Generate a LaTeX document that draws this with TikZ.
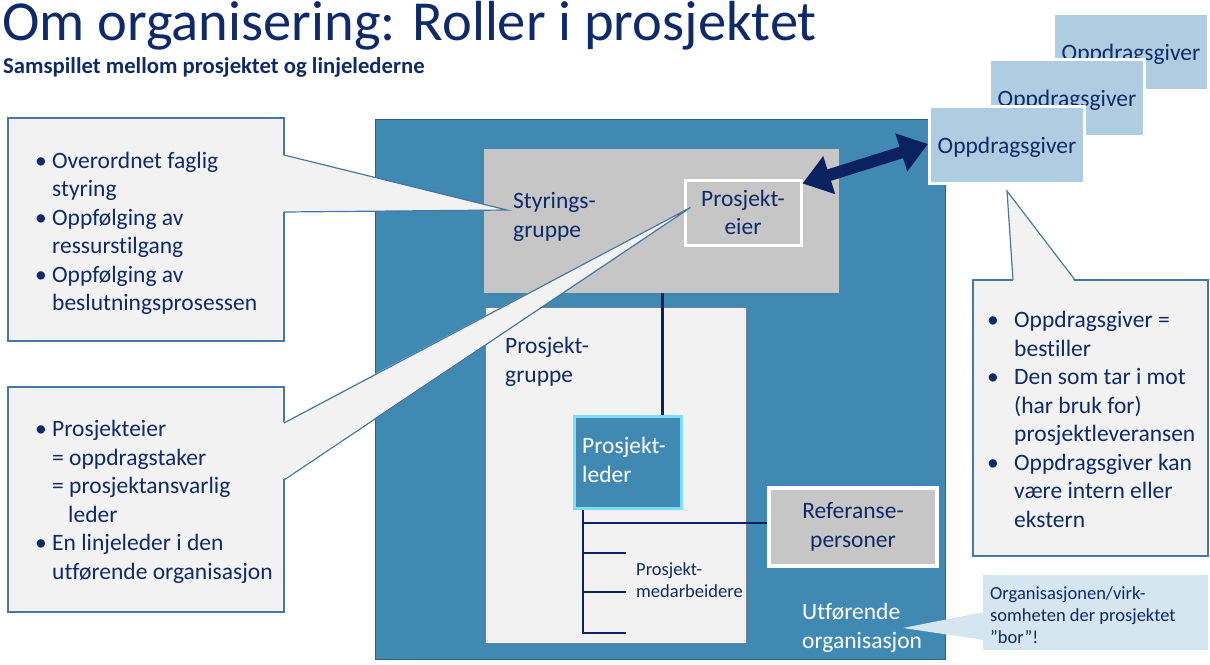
\documentclass[tikz,border=0pt]{standalone}
\usepackage{fontspec}
\setmainfont{Carlito}[Ligatures=NoCommon]
\usetikzlibrary{arrows.meta,calc}

\definecolor{ink}{RGB}{14,42,104}
\definecolor{linkblue}{RGB}{10,34,96}
\definecolor{orgblue}{RGB}{64,137,178}
\definecolor{orgedge}{RGB}{46,98,138}
\definecolor{steergrey}{RGB}{198,198,198}
\definecolor{paper}{RGB}{242,242,242}
\definecolor{calloutedge}{RGB}{72,120,160}
\definecolor{clientblue}{RGB}{175,205,225}
\definecolor{notefill}{RGB}{214,230,241}
\definecolor{leaderedge}{RGB}{125,222,250}
\definecolor{groupedge}{RGB}{110,130,150}

% bullet set in a box of given width
\newcommand{\bul}[1]{\makebox[#1][l]{•}}

\begin{document}
\begin{tikzpicture}[x=1pt,y=-1pt,
  body/.style={font=\fontsize{23.5}{28.5}\selectfont, text=ink, inner sep=0pt},
  small/.style={font=\fontsize{18.5}{22}\selectfont, text=ink, inner sep=0pt},
  % multi-line nodes: the base anchor sits on the last line's baseline
  lefttext/.style={align=left, anchor=base west},
  clientbox/.style={body, fill=clientblue, draw=white, line width=3pt, text depth=0pt,
    minimum width=155pt, minimum height=77pt, anchor=north west},
  conn/.style={draw=linkblue, line width=2.8pt},
  calloutbox/.style={fill=paper, draw=calloutedge, line width=1.2pt,
    anchor=north west, inner sep=0pt, outer sep=0pt},
  wedgeedge/.style={draw=calloutedge, line width=1.2pt},
  twoway/.style={draw=linkblue, line width=12pt,
    {Triangle[length=28pt,width=38pt]}-{Triangle[length=28pt,width=38pt]}},
]
\useasboundingbox (0,0) rectangle (1210,664);

% headings
\node[font=\fontsize{56.5}{60}\selectfont, text=ink, inner sep=0pt, anchor=base west]
  (title) at (2,40) {Om organisering: Roller i prosjektet};
\node[font=\bfseries\fontsize{22.7}{26}\selectfont, text=ink, inner sep=0pt, anchor=base west]
  (sub) at (3,73) {Samspillet mellom prosjektet og linjelederne};

% executing organisation
\node[fill=orgblue, draw=orgedge, line width=1pt, minimum width=570pt, minimum height=540pt,
  anchor=north west, inner sep=0pt] (org) at (375,119) {};

% steering group with project owner
\node[fill=steergrey, minimum width=355pt, minimum height=144pt, anchor=north west,
  inner sep=0pt] (sg) at (484,149) {};
\node[body, lefttext] (sgtxt) at (513,237) {Styrings-\\gruppe};
\node[body, fill=steergrey, draw=white, line width=3pt, minimum width=116pt,
  minimum height=65pt, align=center] (pe) at (743,212.5) {Prosjekt-\\eier};

% project group
\node[fill=paper, draw=groupedge, line width=0.8pt, minimum width=261pt, minimum height=336pt,
  anchor=north west, inner sep=0pt] (pg) at (485,307) {};
\node[body, lefttext] (pgtxt) at (505,382) {Prosjekt-\\gruppe};

% project leader
\node[fill=orgblue, draw=leaderedge, line width=3pt, minimum width=107pt, minimum height=92pt,
  anchor=north west, inner sep=0pt] (pl) at (573,415) {};
\node[body, lefttext, text=white] (pltxt) at (582,482) {Prosjekt-\\leder};

% reference persons
\node[body, fill=steergrey, draw=white, line width=3.5pt, minimum width=168pt,
  minimum height=78pt, align=center] (ref) at (853,527) {Referanse-\\personer};

% reporting lines
\coordinate (trunk) at ([xshift=10pt]pl.south west);
\coordinate (refin) at ([yshift=4pt]ref.west);
\coordinate (m1) at (626,553);
\coordinate (m2) at (626,592);
\coordinate (m3) at (626,633);
\draw[conn] ([xshift=34.5pt]pl.north) -- ([xshift=34.5pt]pl.north |- sg.south);
\draw[conn] (trunk) -- (trunk |- m3) -- (m3);
\draw[conn] (trunk |- m1) -- (m1);
\draw[conn] (trunk |- m2) -- (m2);
\draw[conn] (trunk |- refin) -- (refin);

\node[small, lefttext] (med) at (636,597) {Prosjekt-\\medarbeidere};
\node[body, lefttext, text=white] (utf) at (802,648) {Utførende\\organisasjon};

% clients
\node[clientbox] (og3) at (1052,12) {Oppdragsgiver};
\node[clientbox] (og2) at (988,58) {Oppdragsgiver};
\node[clientbox] (og1) at (928,105) {Oppdragsgiver};

\draw[twoway] ([yshift=-5pt]pe.north east) -- ([yshift=1pt]og1.west);

% callout: steering group
\node[calloutbox, minimum width=276pt, minimum height=223pt] (c1) at (8,118) {};
\coordinate (t1) at ($(sgtxt.base west)+(-6,-27)$);
\coordinate (a1) at ($(c1.north east)+(0,37)$);
\coordinate (b1) at ($(c1.north east)+(0,94)$);
\fill[paper] ($(a1)+(-2,0)$) -- (t1) -- ($(b1)+(-2,0)$) -- cycle;
\draw[wedgeedge] (a1) -- (t1) -- (b1);
\node[body, lefttext] (c1txt) at (35,310.5)
  {\bul{17pt}Overordnet faglig\\\hspace*{17pt}styring\\
   \bul{17pt}Oppfølging av\\\hspace*{17pt}ressurstilgang\\
   \bul{17pt}Oppfølging av\\\hspace*{17pt}beslutningsprosessen};

% callout: project owner
\node[calloutbox, minimum width=276pt, minimum height=225pt] (c2) at (8,387) {};
\coordinate (t2) at ($(pe.west)+(7,-5)$);
\coordinate (a2) at ($(c2.north east)+(0,36)$);
\coordinate (b2) at ($(c2.north east)+(0,93)$);
\fill[paper] ($(a2)+(-2,0)$) -- (t2) -- ($(b2)+(-2,0)$) -- cycle;
\draw[wedgeedge] (a2) -- (t2) -- (b2);
\node[body, lefttext] (c2txt) at (35,579)
  {\bul{17pt}Prosjekteier\\\hspace*{17pt}= oppdragstaker\\
   \hspace*{17pt}= prosjektansvarlig\\\hspace*{33pt}leder\\
   \bul{17pt}En linjeleder i den\\\hspace*{17pt}utførende organisasjon};

% callout: client
\node[calloutbox, minimum width=235pt, minimum height=276pt] (c3) at (973,280) {};
\coordinate (t3) at ($(og1.south)+(0,6)$);
\coordinate (a3) at ($(c3.north west)+(40,0)$);
\coordinate (b3) at ($(c3.north west)+(102,0)$);
\fill[paper] ($(a3)+(0,2)$) -- (t3) -- ($(b3)+(0,2)$) -- cycle;
\draw[wedgeedge] (a3) -- (t3) -- (b3);
\node[body, lefttext] (c3txt) at (987,527)
  {\bul{27pt}Oppdragsgiver =\\\hspace*{27pt}bestiller\\
   \bul{27pt}Den som tar i mot\\\hspace*{27pt}(har bruk for)\\
   \hspace*{27pt}prosjektleveransen\\
   \bul{27pt}Oppdragsgiver kan\\\hspace*{27pt}være intern eller\\\hspace*{27pt}ekstern};

% note on the executing organisation
\node[fill=notefill, minimum width=225pt, minimum height=75pt, anchor=north west,
  inner sep=0pt, outer sep=0pt] (note) at (983,575) {};
\coordinate (t4) at ($(utf.base west)+(101,-20)$);
\fill[notefill] ($(note.north west)+(1,37)$) -- (t4) -- ($(note.north west)+(1,65)$) -- cycle;
\node[small, lefttext] (notetxt) at (990,643)
  {Organisasjonen/virk-\\somheten der prosjektet\\”bor”!};
\end{tikzpicture}
\end{document}
